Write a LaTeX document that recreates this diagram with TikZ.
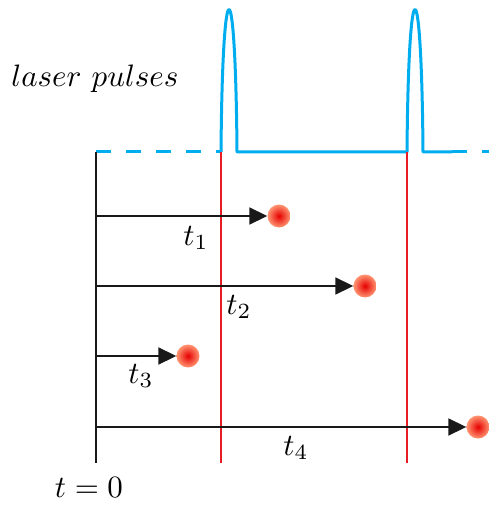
\documentclass[tikz,border=0pt]{standalone}
\usetikzlibrary{arrows.meta}
\definecolor{pulseblue}{RGB}{0,174,239}
\definecolor{markred}{RGB}{232,28,36}
\newcommand{\bigtxt}[1]{\scalebox{3.1}{#1}}
\begin{document}
\begin{tikzpicture}[x=1pt,y=-1pt,
  axis/.style={line width=2pt,black!90},
  pulseline/.style={line width=3pt,pulseblue,line join=round},
  pulsedash/.style={pulseline,dash pattern=on 15pt off 15pt},
  marker/.style={line width=2pt,markred},
  flight/.style={line width=1.8pt,black!90,-{Triangle[length=18pt,width=17pt]}},
  ion/.style={circle,minimum size=23pt,inner sep=0pt,inner color=red!90!black,outer color=red!50!orange!55!white},
  lbl/.style={inner sep=0pt}]
\useasboundingbox (0,0) rectangle (488,505);
% laser pulse train
\draw[pulsedash] (96,152) -- (221,152);
\draw[pulseline] (221,152) .. controls (222.5,-38) and (235.5,-38) .. (237,152)
  -- (407,152) .. controls (408.5,-38) and (421.5,-38) .. (423,152) -- (452,152);
\draw[pulsedash] (452,152) -- (498,152);
% axes and markers
\coordinate (top) at (96,152);
\coordinate (bot) at (96,463);
\draw[axis] (top) -- (bot);
\coordinate (m1t) at (221,152);
\coordinate (m1b) at (221,463);
\coordinate (m2t) at (407,152);
\coordinate (m2b) at (407,463);
\draw[marker] (m1t) -- (m1b);
\draw[marker] (m2t) -- (m2b);
% ions
\node[ion] (i1) at (279,216) {};
\node[ion] (i2) at (365,286) {};
\node[ion] (i3) at (188,356) {};
\node[ion] (i4) at (478,427) {};
\coordinate (s1) at (96,216);
\coordinate (s2) at (96,286);
\coordinate (s3) at (96,356);
\coordinate (s4) at (96,427);
\draw[flight] (s1) -- (i1);
\draw[flight] (s2) -- (i2);
\draw[flight] (s3) -- (i3);
\draw[flight] (s4) -- (i4);
% labels
\node[lbl] (l1) at (196,238) {\bigtxt{$t_1$}};
\node[lbl] (l2) at (239,307) {\bigtxt{$t_2$}};
\node[lbl] (l3) at (141,376) {\bigtxt{$t_3$}};
\node[lbl] (l4) at (296,448) {\bigtxt{$t_4$}};
\node[lbl] (t0) at (89,488) {\bigtxt{$t=0$}};
\node[lbl] (lp) at (95,79) {\bigtxt{$laser\ pulses$}};
\end{tikzpicture}
\end{document}
